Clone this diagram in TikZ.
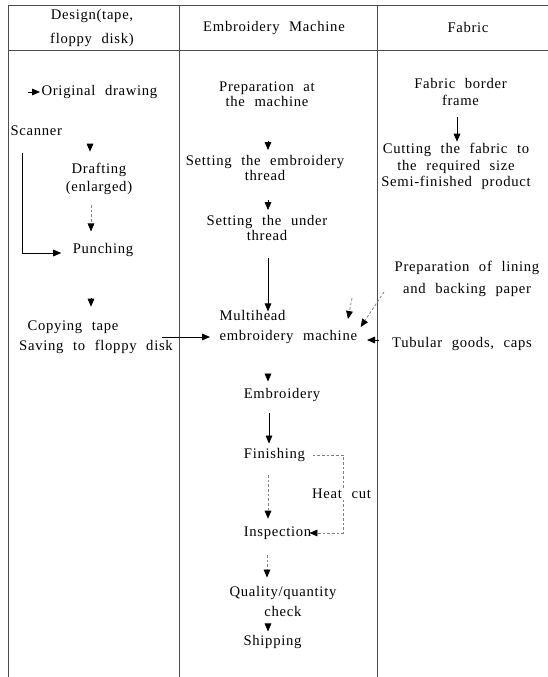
\documentclass[tikz,border=0pt]{standalone}
\usepackage{fontspec}
\setmainfont[LetterSpace=4.8,WordSpace=2.2,Ligatures={TeX,NoCommon}]{Liberation Serif}
\usetikzlibrary{arrows.meta}
\begin{document}
\begin{tikzpicture}[x=0.75pt,y=-0.75pt,
  lbl/.style={inner sep=1pt, align=center, font=\fontsize{11}{13.6}\selectfont},
  rule/.style={line width=0.6pt, black!70},
  ln/.style={line width=0.6pt, black},
  arr/.style={ln, -{Triangle[length=6pt,width=5pt,color=black]}},
  faint/.style={black!50, dash pattern=on 2pt off 1.5pt},
]
\useasboundingbox (0,0) rectangle (548,677);
% table frame
\draw[rule] (8,5) -- (548,5);
\draw[rule] (8,50) -- (548,50);
\draw[rule] (8,5) -- (8,677);
\draw[rule] (179,5) -- (179,677);
\draw[rule] (377,5) -- (377,677);

% headers
\node[lbl] (hd1) at (92,28) {Design(tape,\\[4.4pt]floppy disk)};
\node[lbl] (hd2) at (274,28) {Embroidery Machine};
\node[lbl] (hd3) at (468,27) {Fabric};

% column 1
\node[lbl,anchor=west] (orig) at (40,92) {Original drawing};
\node[lbl,anchor=west] (scan) at (9,131) {Scanner};
\node[lbl] (draft) at (99,179) {Drafting\\[-0.1pt](enlarged)};
\node[lbl] (punch) at (103,250) {Punching};
\node[lbl] (copyA) at (73,327) {Copying tape};
\node[lbl] (copyB) at (96,347) {Saving to floppy disk};

% column 2
\node[lbl] (prep) at (267,94.5) {Preparation at\\[-2.35pt]the machine};
\node[lbl] (setE) at (265,167.5) {Setting the embroidery\\[-2.35pt]thread};
\node[lbl] (setU) at (267,227.5) {Setting the under\\[-2.35pt]thread};
\node[lbl,align=left,anchor=west] (multi) at (218,327) {Multihead\\[1.4pt]embroidery machine};
\node[lbl] (embr) at (282,395) {Embroidery};
\node[lbl] (fin) at (274.5,455) {Finishing};
\node[lbl] (insp) at (277.5,533) {Inspection};
\node[lbl] (qual) at (283,601.5) {Quality/quantity\\[1.4pt]check};
\node[lbl] (ship) at (272.5,642) {Shipping};

% column 3
\node[lbl] (fbf) at (460.5,91.5) {Fabric border\\[-0.85pt]frame};
\node[lbl] (cut) at (456,166.5) {Cutting the fabric to\\[-1.2pt]the required size\\[-1.2pt]Semi-finished product};
\node[lbl] (lin) at (467,279) {Preparation of lining\\[2.9pt]and backing paper};
\node[lbl] (tub) at (462,344) {Tubular goods, caps};

% column 1 connectors
\coordinate (o1) at (28,92);
\draw[arr] (o1) -- (orig.west);
\coordinate (sc1) at (22,153);
\draw[arr,shorten >=7.5pt] (sc1) |- ([yshift=-2.25pt]punch.west);
\coordinate (d1) at (90,144);
\draw[arr,shorten >=7.5pt] (d1) -- (d1 |- draft.north);
\coordinate (d2) at (91,205);
\draw[arr,faint,shorten >=7.7pt] (d2) -- (d2 |- punch.north);
\coordinate (d3) at (91,298);
\draw[arr,shorten >=9.2pt] (d3) -- (d3 |- copyA.north);
\coordinate (c1) at (162,337);
\draw[arr,shorten >=6pt] (c1) -- (c1 -| multi.west);

% column 2 connectors
\coordinate (m1) at (268,141);
\draw[arr,shorten >=2.4pt] (m1) -- (m1 |- setE.north);
\coordinate (m2) at (268,200);
\draw[arr,shorten >=2.4pt] (m2) -- (m2 |- setU.north);
\coordinate (m3) at (268,258);
\draw[arr,shorten >=-2pt] (m3) -- (m3 |- multi.north);
\coordinate (m4) at (268,374);
\draw[arr,shorten >=3.9pt] (m4) -- (m4 |- embr.north);
\coordinate (m5) at (269,413);
\draw[arr,shorten >=2.4pt] (m5) -- (m5 |- fin.north);
\coordinate (m6) at (268,475);
\draw[arr,faint,shorten >=4.7pt] (m6) -- (m6 |- insp.north);
\coordinate (hc) at (343,455);
\draw[arr,faint,shorten <=4.5pt,shorten >=-2.5pt] (fin.east) -- (hc) |- (insp.east);
\node[lbl,fill=white] (heat) at (341.5,494) {Heat cut};
\coordinate (m7) at (267,555);
\draw[arr,faint,shorten >=5.4pt] (m7) -- (m7 |- qual.north);
\coordinate (m8) at (268,625);
\draw[arr,shorten >=1.7pt] (m8) -- (m8 |- ship.north);

% column 3 connectors
\coordinate (f1) at (457,117);
\draw[arr] (f1) -- (f1 |- cut.north);
\coordinate (l1) at (384,292);
\draw[arr,faint] (l1) -- ([shift={(1.5pt,0pt)}]multi.east);
\coordinate (l2) at (352,298);
\draw[arr,faint] (l2) -- ([shift={(-8pt,6pt)}]multi.east);
\coordinate (t1) at (379,340);
\draw[arr] (t1) -- ++(-12,0);
\end{tikzpicture}
\end{document}
